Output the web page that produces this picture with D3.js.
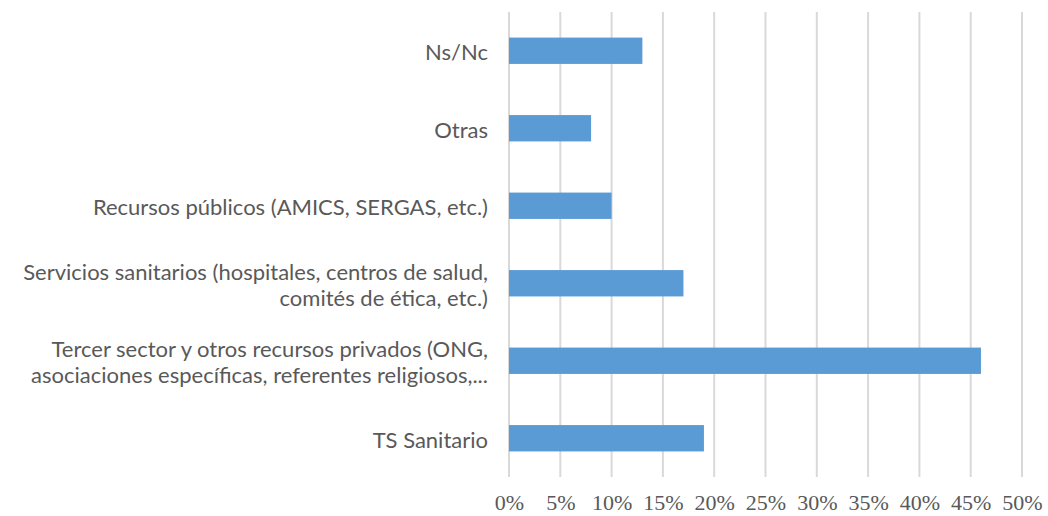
<!DOCTYPE html>
<html>
<head>
<meta charset="utf-8">
<script src="https://cdn.jsdelivr.net/npm/d3@7"></script>
<style>
  body { margin: 0; background: #fff; }
  svg { display: block; }
</style>
</head>
<body>
<svg id="chart" width="1048" height="516"></svg>
<script>
// categories, top to bottom (line breaks as in the original labels)
var categories = [
    "Ns/Nc",
    "Otras",
    "Recursos públicos (AMICS, SERGAS, etc.)",
    "Servicios sanitarios (hospitales, centros de salud,\ncomités de ética, etc.)",
    "Tercer sector y otros recursos privados (ONG,\nasociaciones específicas, referentes religiosos,...",
    "TS Sanitario"
];
var values = [13, 8, 10, 17, 46, 19];   // percent
var ticks = [0, 5, 10, 15, 20, 25, 30, 35, 40, 45, 50];

var svg = d3.select("#chart"),
    width = +svg.attr("width"),
    height = +svg.attr("height");

var margin = {top: 12, right: 26, bottom: 39, left: 509};

var x = d3.scaleLinear()
    .domain([0, 50])
    .range([margin.left, width - margin.right]);

var y = d3.scaleBand()
    .domain(categories)
    .range([margin.top, height - margin.bottom])
    .paddingInner(0.66)
    .paddingOuter(0.33);

// vertical gridlines
svg.append("g")
    .attr("class", "grid")
    .selectAll("line")
    .data(ticks)
    .enter()
    .append("line")
      .attr("x1", function(d) { return x(d); })
      .attr("x2", function(d) { return x(d); })
      .attr("y1", margin.top)
      .attr("y2", height - margin.bottom)
      .style("stroke", "#d9d9d9")
      .style("stroke-width", 2);

// bars
svg.append("g")
    .selectAll("rect")
    .data(values)
    .enter()
    .append("rect")
      .attr("x", x(0))
      .attr("y", function(d, i) { return y(categories[i]); })
      .attr("width", function(d) { return x(d) - x(0); })
      .attr("height", y.bandwidth())
      .attr("fill", "#5b9bd5");

// x axis tick labels
var xAxis = d3.axisBottom(x)
    .tickValues(ticks)
    .tickSize(0)
    .tickPadding(0)
    .tickFormat(function(d) { return d + "%"; });

var gx = svg.append("g")
    .attr("transform", "translate(0," + (height - margin.bottom) + ")")
    .call(xAxis);
gx.select(".domain").remove();
gx.selectAll("text")
    .attr("y", 33)
    .attr("dy", 0)
    .style("font-family", "'Liberation Serif', 'Times New Roman', serif")
    .style("font-size", "22px")
    .style("fill", "#595959");

// category labels (may wrap to two lines)
var lineH = 26;
var labels = svg.append("g")
    .selectAll("text")
    .data(categories)
    .enter()
    .append("text")
      .attr("text-anchor", "end")
      .style("font-family", "Lato, 'Open Sans', sans-serif")
      .style("font-size", "22px")
      .style("fill", "#595959");

labels.each(function(d) {
    var lines = d.split("\n");
    var cy = y(d) + y.bandwidth() / 2 + 2;
    var t = d3.select(this);
    lines.forEach(function(line, k) {
        t.append("tspan")
            .attr("x", 488)
            .attr("y", cy + (k - (lines.length - 1) / 2) * lineH)
            .attr("dy", "0.35em")
            .text(line);
    });
});
</script>
</body>
</html>
